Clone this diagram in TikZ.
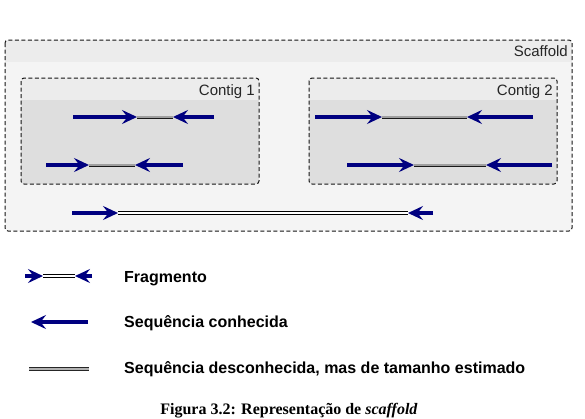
\documentclass[tikz,border=0pt]{standalone}
\usepackage{fontspec}
\setmainfont{Liberation Sans}
\newfontfamily\capfont{Liberation Serif}
\usetikzlibrary{arrows.meta}
\definecolor{seqblue}{RGB}{0,0,128}
\definecolor{bandgray}{RGB}{236,236,236}
\definecolor{scafbody}{RGB}{244,244,244}
\definecolor{contbody}{RGB}{222,222,222}
\definecolor{bordergray}{RGB}{20,20,20}
\begin{document}
\begin{tikzpicture}[x=1pt,y=-1pt,
  seqarrow/.style={draw=seqblue, line width=3.2pt, -{Stealth[length=15pt,width=14pt,inset=5.5pt]}},
  gapline/.style={draw=black!90, line width=0.8pt, double=gray!75, double distance=1.4pt},
  estline/.style={draw=black, line width=0.8pt, double=white, double distance=1.8pt},
  keyline/.style={draw=black!85, line width=0.8pt, double=gray!60, double distance=1.6pt},
  boxborder/.style={draw=bordergray, line width=1pt, dash pattern=on 4pt off 2.5pt, rounded corners=3pt},
  boxlabel/.style={font=\fontsize{15}{17}\selectfont, anchor=base east, inner sep=0pt, text=black!85},
  keytext/.style={font=\bfseries\fontsize{16}{18}\selectfont, anchor=base west, inner sep=0pt},
  captext/.style={font=\capfont\bfseries\fontsize{16}{18}\selectfont, anchor=base, inner sep=0pt}]
\useasboundingbox (0,0) rectangle (585,418);

% Scaffold box
\begin{scope}
  \clip[rounded corners=3pt] (5,40) rectangle (572,231);
  \fill[scafbody] (5,40) rectangle (572,231);
  \fill[bandgray] (5,40) rectangle (572,62);
\end{scope}
\draw[boxborder] (5,40) rectangle (572,231);
\node[boxlabel] (scaflabel) at (568,56) {Scaffold};

% Contig 1
\begin{scope}
  \clip[rounded corners=3pt] (21,78) rectangle (259,184);
  \fill[contbody] (21,78) rectangle (259,184);
  \fill[bandgray] (21,78) rectangle (259,100);
\end{scope}
\draw[boxborder] (21,78) rectangle (259,184);
\node[boxlabel] (c1label) at (255,95) {Contig 1};

% Contig 2
\begin{scope}
  \clip[rounded corners=3pt] (309,78) rectangle (557,184);
  \fill[contbody] (309,78) rectangle (557,184);
  \fill[bandgray] (309,78) rectangle (557,100);
\end{scope}
\draw[boxborder] (309,78) rectangle (557,184);
\node[boxlabel] (c2label) at (553,95) {Contig 2};

% Contig 1 fragments
\coordinate (a1) at (73,117); \coordinate (b1) at (137,117);
\coordinate (c1) at (173,117); \coordinate (d1) at (214,117);
\draw[gapline] (b1) -- (c1);
\draw[seqarrow] (a1) -- (b1);
\draw[seqarrow] (d1) -- (c1);

\coordinate (a2) at (46,165); \coordinate (b2) at (89,165);
\coordinate (c2) at (135,165); \coordinate (d2) at (183,165);
\draw[gapline] (b2) -- (c2);
\draw[seqarrow] (a2) -- (b2);
\draw[seqarrow] (d2) -- (c2);

% Contig 2 fragments
\coordinate (a3) at (315,117); \coordinate (b3) at (382,117);
\coordinate (c3) at (467,117); \coordinate (d3) at (533,117);
\draw[gapline] (b3) -- (c3);
\draw[seqarrow] (a3) -- (b3);
\draw[seqarrow] (d3) -- (c3);

\coordinate (a4) at (347,165); \coordinate (b4) at (414,165);
\coordinate (c4) at (486,165); \coordinate (d4) at (552,165);
\draw[gapline] (b4) -- (c4);
\draw[seqarrow] (a4) -- (b4);
\draw[seqarrow] (d4) -- (c4);

% Scaffold-level link
\coordinate (a5) at (72,213); \coordinate (b5) at (118,213);
\coordinate (c5) at (408,213); \coordinate (d5) at (433,213);
\draw[estline] (b5) -- (c5);
\draw[seqarrow] (a5) -- (b5);
\draw[seqarrow] (d5) -- (c5);

% Legend
\coordinate (la) at (25,276); \coordinate (lb) at (43,276);
\coordinate (lc) at (75,276); \coordinate (ld) at (92,276);
\draw[estline] (lb) -- (lc);
\draw[seqarrow] (la) -- (lb);
\draw[seqarrow] (ld) -- (lc);
\node[keytext] (k1) at (124,282) {Fragmento};

\coordinate (ke) at (88,322); \coordinate (kf) at (31,322);
\draw[seqarrow] (ke) -- (kf);
\node[keytext] (k2) at (124,327) {Sequência conhecida};

\coordinate (kg) at (29,369); \coordinate (kh) at (89,369);
\draw[keyline] (kg) -- (kh);
\node[keytext] (k3) at (124,373) {Sequência desconhecida, mas de tamanho estimado};

% Caption
\node[captext] (cap) at (289,414) {Figura 3.2: Representação de \textit{scaffold}};
\end{tikzpicture}
\end{document}
